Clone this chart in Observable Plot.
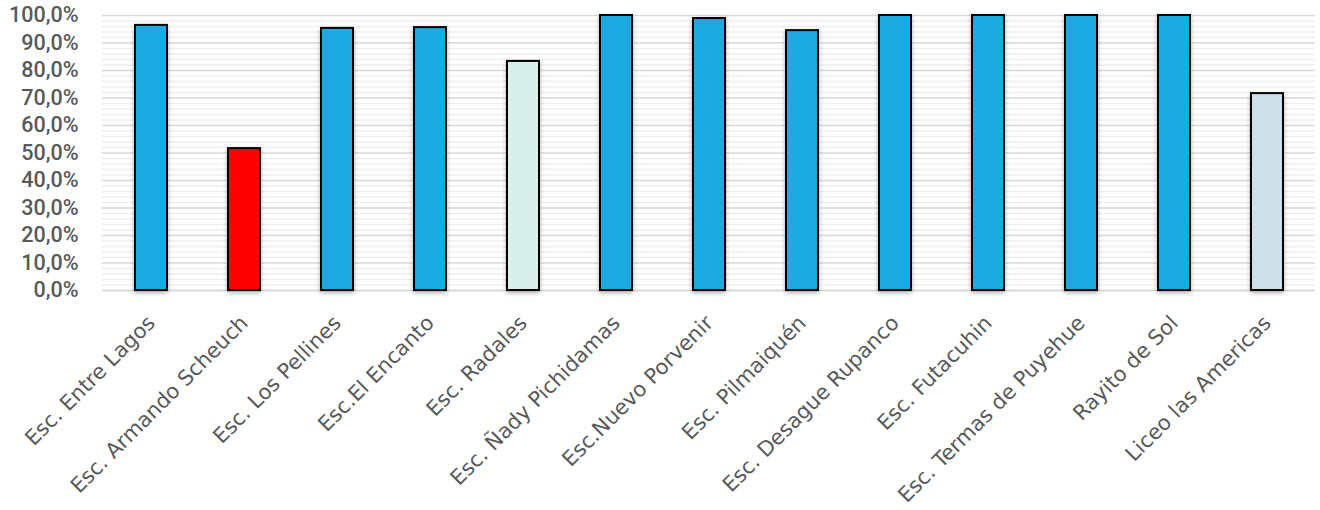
<!DOCTYPE html>
<html><head><meta charset="utf-8">
<script src="https://cdn.jsdelivr.net/npm/d3@7"></script>
<script src="https://cdn.jsdelivr.net/npm/@observablehq/plot@0.6"></script>
<style>
html,body{margin:0;padding:0;background:#fff;}
#chart svg{display:block;}
</style>
</head><body><div id="chart"></div>
<script>
const categories = ["Esc. Entre Lagos","Esc. Armando Scheuch","Esc. Los Pellines","Esc.El Encanto","Esc. Radales","Esc. Ñady Pichidamas","Esc.Nuevo Porvenir","Esc. Pilmaiquén","Esc. Desague Rupanco","Esc. Futacuhin","Esc. Termas de Puyehue","Rayito de Sol","Liceo las Americas"];
const values = [0.964, 0.516, 0.953, 0.956, 0.833, 1.0, 0.989, 0.945, 1.0, 1.0, 1.0, 1.0, 0.716];
const barColors = ["#1CAAE2","#FF0000","#1CAAE2","#1CAAE2","#D9F0EA","#1CAAE2","#1CAAE2","#1CAAE2","#1CAAE2","#1CAAE2","#1CAAE2","#1CAAE2","#CEDFE8"];
const majorTicks = d3.range(0, 1.0001, 0.1);
const minorTicks = d3.range(0, 1.0001, 0.02).filter(v => Math.abs(Math.round(v*10) - v*10) > 1e-6);

const data = categories.map((c, i) => ({name: c, value: values[i], color: barColors[i]}));
const fmt = v => (v*100).toFixed(1).replace(".", ",") + "%";

const chart = Plot.plot({
  width: 1320,
  height: 510,
  marginLeft: 102,
  marginRight: 5,
  marginTop: 15,
  marginBottom: 220,
  x: {domain: categories, paddingInner: 0.66, paddingOuter: 0.33, label: null, tickSize: 0, tickRotate: -45, tickPadding: 29},
  y: {domain: [0, 1], ticks: majorTicks, tickFormat: fmt, label: null, tickSize: 0, tickPadding: 24},
  style: {background: "#fff"},
  marks: [
    Plot.ruleY(minorTicks, {stroke: "#efefef", strokeWidth: 1.5}),
    Plot.ruleY(majorTicks.slice(1), {stroke: "#d9d9d9", strokeWidth: 1.5}),
    Plot.ruleY([0], {stroke: "#d9d9d9", strokeWidth: 2}),
    Plot.barY(data, {x: "name", y: "value", fill: "color", stroke: "#000", strokeWidth: 2})
  ]
});

const svg = d3.select(chart);
svg.selectAll('g[aria-label="y-axis tick label"]')
  .attr("font-family", "Roboto").attr("font-size", 21.5).attr("font-weight", 500).attr("fill", "#595959");
svg.selectAll('g[aria-label="x-axis tick label"]')
  .attr("font-family", "DejaVu Sans").attr("font-size", 21).attr("fill", "#595959");
svg.selectAll('g[aria-label="bar"]').style("filter", "drop-shadow(0px 2px 2px rgba(0,0,0,0.3))");
document.getElementById("chart").appendChild(chart);
</script>
</body></html>
